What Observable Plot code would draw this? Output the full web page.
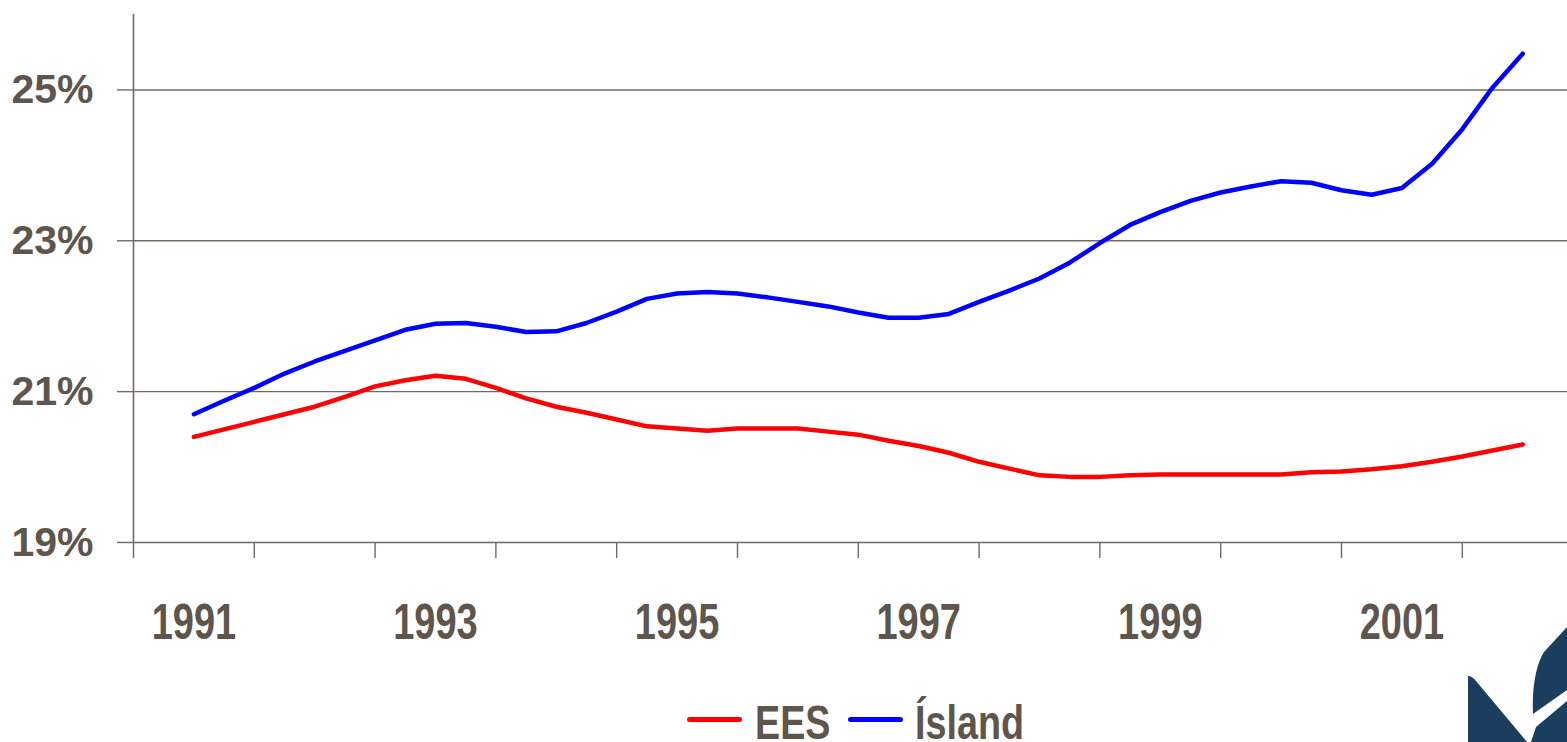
<!DOCTYPE html>
<html>
<head>
<meta charset="utf-8">
<script src="https://cdn.jsdelivr.net/npm/d3@7"></script>
<script src="https://cdn.jsdelivr.net/npm/@observablehq/plot@0.6"></script>
<style>
  html, body { margin: 0; padding: 0; background: #ffffff; }
  body { width: 1567px; height: 742px; overflow: hidden; position: relative; font-family: "Liberation Sans", Arial, sans-serif; }
  #chart { position: absolute; left: 0; top: 0; }
  #legend { position: absolute; left: 0; top: 680px; width: 1567px; height: 62px; }
  .sw { position: absolute; height: 5px; border-radius: 3px; }
  .lt { position: absolute; font-family: "Liberation Sans", Arial, sans-serif; font-weight: bold; font-size: 49px; line-height: 34px; color: #5e554c; white-space: nowrap; transform: scaleX(0.77); transform-origin: 0 0; }
  #logo { position: absolute; left: 1440px; top: 600px; }
</style>
</head>
<body>
<div id="chart"></div>
<div id="legend"></div>
<svg id="logo" width="127" height="142" viewBox="1440 600 127 142">
  <path d="M1468,676 Q1472,676 1476,681 L1527,742 L1468,742 Z" fill="#1b3d5e"/>
  <path d="M1533,714 C1532,695 1534,668 1544,652 L1567,627 L1567,690 Z" fill="#1b3d5e"/>
  <path d="M1531,742 L1536,727 L1567,701 L1567,742 Z" fill="#1b3d5e"/>
</svg>
<script>
// ---- data ----
const categories = [1991, 1992, 1993, 1994, 1995, 1996, 1997, 1998, 1999, 2000, 2001, 2002];
const labelYears = [1991, 1993, 1995, 1997, 1999, 2001];
const yTicks = [19, 21, 23, 25];
const seriesNames = ["EES", "Ísland"];
const seriesColors = ["#ff0000", "#0000ff"];
const time = [
  1991.00, 1991.25, 1991.50, 1991.75, 1992.00, 1992.25, 1992.50, 1992.75,
  1993.00, 1993.25, 1993.50, 1993.75, 1994.00, 1994.25, 1994.50, 1994.75,
  1995.00, 1995.25, 1995.50, 1995.75, 1996.00, 1996.25, 1996.50, 1996.75,
  1997.00, 1997.25, 1997.50, 1997.75, 1998.00, 1998.25, 1998.50, 1998.75,
  1999.00, 1999.25, 1999.50, 1999.75, 2000.00, 2000.25, 2000.50, 2000.75,
  2001.00, 2001.25, 2001.50, 2001.75, 2002.00
];
const ees = [
  20.40, 20.50, 20.60, 20.70, 20.80, 20.93, 21.07, 21.15,
  21.21, 21.17, 21.05, 20.91, 20.80, 20.72, 20.63, 20.54,
  20.51, 20.48, 20.51, 20.51, 20.51, 20.47, 20.43, 20.35,
  20.28, 20.19, 20.07, 19.98, 19.89, 19.87, 19.87, 19.89,
  19.90, 19.90, 19.90, 19.90, 19.90, 19.93, 19.94, 19.97,
  20.01, 20.07, 20.14, 20.22, 20.30
];
const island = [
  20.70, 20.88, 21.05, 21.24, 21.40, 21.54, 21.68, 21.82,
  21.90, 21.91, 21.86, 21.79, 21.80, 21.91, 22.06, 22.23,
  22.30, 22.32, 22.30, 22.25, 22.19, 22.13, 22.05, 21.98,
  21.98, 22.03, 22.19, 22.34, 22.50, 22.71, 22.97, 23.21,
  23.38, 23.53, 23.64, 23.72, 23.79, 23.77, 23.67, 23.61,
  23.70, 24.02, 24.48, 25.03, 25.48
];

// ---- build table ----
const seriesValues = [ees, island];
const rows = [];
seriesNames.forEach((name, si) => {
  seriesValues[si].forEach((v, i) => rows.push({series: name, t: time[i], v}));
});
const boundaries = categories.map(c => c - 0.5);

const W = 1567, H = 680;
const gridColor = "#726a62";
const textColor = "#5e554c";

const chart = Plot.plot({
  width: W,
  height: H,
  marginLeft: 133,
  marginRight: 0,
  marginTop: 14,
  marginBottom: H - 542,
  style: {background: "#ffffff", fontFamily: "'Liberation Sans', Arial, sans-serif", overflow: "visible"},
  x: {domain: [categories[0] - 0.5, 2002.371], axis: null},
  y: {domain: [19, 26], axis: null},
  color: {domain: seriesNames, range: seriesColors},
  marks: [
    Plot.ruleY(yTicks, {stroke: gridColor, strokeWidth: 1.4}),
    Plot.axisY({ticks: yTicks, label: null, tickSize: 16, tickPadding: 24, tickFormat: d => d + "%",
      stroke: gridColor, strokeWidth: 1.4, fill: textColor, fontSize: 41, fontWeight: "bold"}),
    Plot.ruleX([boundaries[0]], {stroke: gridColor, strokeWidth: 1.6}),
    Plot.axisX({ticks: boundaries, label: null, tickSize: 16, tickFormat: () => "", stroke: gridColor, strokeWidth: 1.4}),
    Plot.axisX({ticks: labelYears, label: null, tickSize: 0, tickPadding: 61, tickFormat: d => String(d),
      fill: textColor, fontSize: 50, fontWeight: "bold"}),
    Plot.line(rows, {x: "t", y: "v", stroke: "series", z: "series", strokeWidth: 4.5,
      strokeLinecap: "round", strokeLinejoin: "round"})
  ]
});
document.getElementById("chart").appendChild(chart);

// condense the year labels horizontally (narrow bold face in the original)
const yearStrings = new Set(labelYears.map(String));
d3.select(chart).selectAll("text").each(function() {
  if (!yearStrings.has(this.textContent.trim())) return;
  const el = d3.select(this);
  const tr = el.attr("transform") || "";
  el.attr("transform", tr + " scale(0.76,1)");
});

// ---- legend ----
const legend = document.getElementById("legend");
const swatchLeft = [687, 848];
const textLeft = [755, 915];
seriesNames.forEach((name, i) => {
  const sw = document.createElement("div");
  sw.className = "sw";
  sw.style.left = swatchLeft[i] + "px";
  sw.style.width = "55px";
  sw.style.top = "37px";
  sw.style.background = seriesColors[i];
  legend.appendChild(sw);
  const tx = document.createElement("div");
  tx.className = "lt";
  tx.style.left = textLeft[i] + "px";
  tx.style.top = "25px";
  tx.textContent = name;
  legend.appendChild(tx);
});
</script>
</body>
</html>
